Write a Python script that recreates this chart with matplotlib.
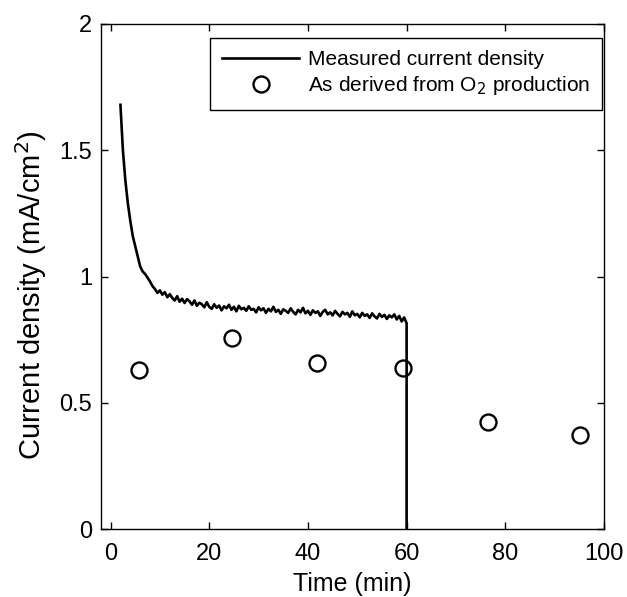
import numpy as np
import matplotlib.pyplot as plt

plt.rcParams['font.family'] = ['Liberation Sans', 'DejaVu Sans']

# measured current density, read every 0.5 min from 2 to 60 min
time_min = [
    2.0, 2.5, 3.0, 3.5, 4.0, 4.5, 5.0, 5.5, 6.0, 6.5,
    7.0, 7.5, 8.0, 8.5, 9.0, 9.5, 10.0, 10.5, 11.0, 11.5,
    12.0, 12.5, 13.0, 13.5, 14.0, 14.5, 15.0, 15.5, 16.0, 16.5,
    17.0, 17.5, 18.0, 18.5, 19.0, 19.5, 20.0, 20.5, 21.0, 21.5,
    22.0, 22.5, 23.0, 23.5, 24.0, 24.5, 25.0, 25.5, 26.0, 26.5,
    27.0, 27.5, 28.0, 28.5, 29.0, 29.5, 30.0, 30.5, 31.0, 31.5,
    32.0, 32.5, 33.0, 33.5, 34.0, 34.5, 35.0, 35.5, 36.0, 36.5,
    37.0, 37.5, 38.0, 38.5, 39.0, 39.5, 40.0, 40.5, 41.0, 41.5,
    42.0, 42.5, 43.0, 43.5, 44.0, 44.5, 45.0, 45.5, 46.0, 46.5,
    47.0, 47.5, 48.0, 48.5, 49.0, 49.5, 50.0, 50.5, 51.0, 51.5,
    52.0, 52.5, 53.0, 53.5, 54.0, 54.5, 55.0, 55.5, 56.0, 56.5,
    57.0, 57.5, 58.0, 58.5, 59.0, 59.5, 60.0, 60.0,
]
current = [
    1.68, 1.50, 1.38, 1.29, 1.22, 1.16, 1.12, 1.08, 1.04, 1.02,
    1.010, 0.995, 0.980, 0.962, 0.950, 0.935, 0.945, 0.928, 0.938, 0.918,
    0.930, 0.915, 0.905, 0.922, 0.900, 0.912, 0.895, 0.910, 0.902, 0.888,
    0.905, 0.884, 0.896, 0.890, 0.878, 0.898, 0.880, 0.872, 0.890, 0.876,
    0.885, 0.866, 0.882, 0.874, 0.888, 0.868, 0.880, 0.862, 0.884, 0.870,
    0.876, 0.864, 0.882, 0.868, 0.872, 0.858, 0.878, 0.866, 0.874, 0.856,
    0.872, 0.862, 0.880, 0.860, 0.868, 0.852, 0.870, 0.864, 0.856, 0.874,
    0.860, 0.850, 0.868, 0.858, 0.876, 0.854, 0.864, 0.848, 0.866, 0.856,
    0.862, 0.844, 0.860, 0.868, 0.850, 0.858, 0.846, 0.864, 0.852, 0.842,
    0.860, 0.850, 0.856, 0.840, 0.862, 0.846, 0.852, 0.838, 0.856, 0.844,
    0.850, 0.836, 0.854, 0.842, 0.834, 0.852, 0.840, 0.848, 0.832, 0.846,
    0.838, 0.850, 0.830, 0.844, 0.822, 0.838, 0.815, 0.0,
]

# current density derived from O2 production
o2_time = [5.8, 24.7, 41.9, 59.2, 76.5, 95.1]
o2_current = [0.628, 0.756, 0.657, 0.637, 0.423, 0.372]

fig = plt.figure(figsize=(6.27, 5.97), dpi=100)
ax = fig.add_axes([0.1606, 0.1139, 0.8027, 0.8459])

ax.plot(time_min, current, color='black', lw=1.9, label='Measured current density')
ax.plot(o2_time, o2_current, 'o', ms=11.5, mfc='none', mec='black', mew=1.7,
        label='As derived from O$_2$ production')

ax.set_xlim(-2, 100)
ax.set_ylim(0, 2)
ax.set_xticks([0, 20, 40, 60, 80, 100])
ax.set_yticks([0, 0.5, 1, 1.5, 2])
ax.set_yticklabels(['0', '0.5', '1', '1.5', '2'])
ax.tick_params(direction='in', top=True, right=True, length=5, width=1,
               labelsize=17, pad=6)
ax.tick_params(axis='x', pad=10)
for s in ax.spines.values():
    s.set_linewidth(1)

ax.set_xlabel('Time (min)', fontsize=18, labelpad=5)
ax.set_ylabel('Current density (mA/cm$^2$)', fontsize=21)
ax.yaxis.set_label_coords(-0.102, 0.463)

leg = ax.legend(loc='upper right', bbox_to_anchor=(0.997, 0.973), fontsize=15,
                fancybox=False, framealpha=1, edgecolor='black',
                handlelength=3.7, handletextpad=0.4, borderpad=0.6,
                borderaxespad=0, labelspacing=0.25)
leg.get_frame().set_linewidth(1)

fig.savefig('out.png', dpi=100)
